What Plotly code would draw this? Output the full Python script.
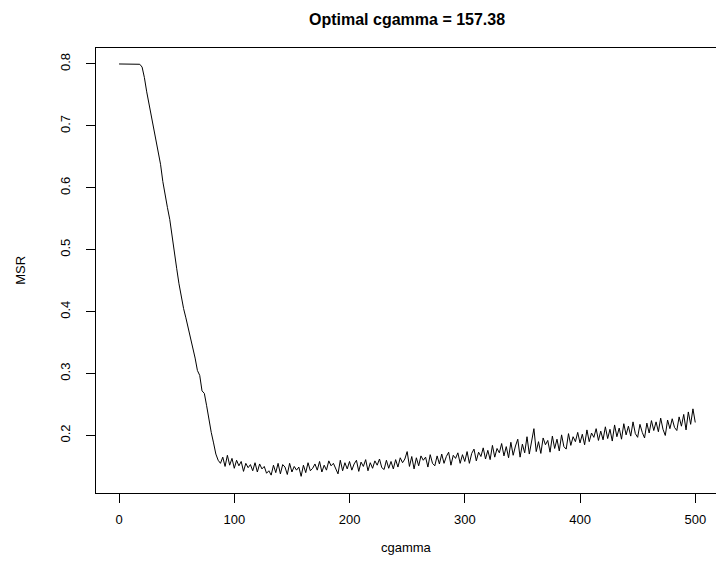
import plotly.graph_objects as go

# ---- data ----
x_decline = [0, 2, 4, 6, 8, 10, 12, 14, 16, 18, 20, 22, 24, 26, 28, 30, 32, 34, 36, 38,
             40, 42, 44, 46, 48, 50, 52, 54, 56, 58, 60, 62, 64, 66, 68, 70, 72, 74, 76, 78,
             80, 82, 84, 86, 88]
msr_decline = [0.800, 0.800, 0.800, 0.800, 0.800, 0.800, 0.800, 0.800, 0.800, 0.7995,
               0.795, 0.778, 0.755, 0.735, 0.716, 0.700, 0.677, 0.660, 0.638, 0.610,
               0.587, 0.568, 0.549, 0.525, 0.497, 0.470, 0.445, 0.424, 0.405, 0.390,
               0.374, 0.360, 0.343, 0.325, 0.305, 0.297, 0.272, 0.268, 0.248, 0.225,
               0.205, 0.188, 0.170, 0.160, 0.155]

x_noise = list(range(90, 501, 2))
msr_noise = [
    0.165, 0.150, 0.168, 0.152, 0.163,
    0.147, 0.160, 0.151, 0.158, 0.142, 0.155, 0.148, 0.153, 0.143, 0.156,
    0.141, 0.154, 0.146, 0.150, 0.139, 0.143, 0.136, 0.152, 0.140, 0.155,
    0.138, 0.153, 0.149, 0.137, 0.155, 0.141, 0.150, 0.144, 0.149, 0.134,
    0.152, 0.140, 0.156, 0.143, 0.147, 0.154, 0.144, 0.158, 0.141, 0.152,
    0.144, 0.159, 0.151, 0.155, 0.146, 0.138, 0.160, 0.143, 0.156, 0.146,
    0.158, 0.144, 0.154, 0.160, 0.142, 0.157, 0.150, 0.161, 0.143, 0.156,
    0.147, 0.159, 0.152, 0.162, 0.148, 0.145, 0.160, 0.147, 0.158, 0.146,
    0.161, 0.149, 0.164, 0.156, 0.162, 0.174, 0.150, 0.166, 0.146, 0.164,
    0.151, 0.167, 0.160, 0.165, 0.149, 0.169, 0.155, 0.151, 0.167, 0.154,
    0.170, 0.155, 0.166, 0.173, 0.152, 0.168, 0.163, 0.172, 0.155, 0.169,
    0.158, 0.174, 0.155, 0.171, 0.178, 0.159, 0.173, 0.166, 0.180, 0.162,
    0.176, 0.161, 0.184, 0.165, 0.179, 0.172, 0.187, 0.167, 0.182, 0.164,
    0.189, 0.168, 0.183, 0.194, 0.165, 0.186, 0.172, 0.198, 0.170, 0.188,
    0.211, 0.174, 0.190, 0.171, 0.196, 0.185, 0.192, 0.173, 0.199, 0.179,
    0.194, 0.175, 0.201, 0.182, 0.178, 0.203, 0.184, 0.198, 0.190, 0.205,
    0.188, 0.202, 0.185, 0.209, 0.190, 0.204, 0.197, 0.211, 0.192, 0.207,
    0.193, 0.214, 0.195, 0.210, 0.191, 0.217, 0.198, 0.212, 0.194, 0.219,
    0.201, 0.215, 0.199, 0.222, 0.203, 0.197, 0.218, 0.205, 0.196, 0.220,
    0.204, 0.224, 0.208, 0.222, 0.206, 0.228, 0.210, 0.200, 0.225, 0.211,
    0.227, 0.213, 0.208, 0.230, 0.215, 0.234, 0.209, 0.238, 0.218, 0.243,
    0.221,
]

x_ticks = [0, 100, 200, 300, 400, 500]
y_ticks = [0.2, 0.3, 0.4, 0.5, 0.6, 0.7, 0.8]
y_tick_text = ["0.2", "0.3", "0.4", "0.5", "0.6", "0.7", "0.8"]

title_text = "Optimal cgamma = 157.38"
x_label = "cgamma"
y_label = "MSR"

cgamma = x_decline + x_noise
msr = msr_decline + msr_noise

FONT = "Liberation Sans, Arial, Helvetica, sans-serif"

fig = go.Figure()
fig.add_trace(go.Scatter(x=cgamma, y=msr, mode="lines",
                         line=dict(color="black", width=1),
                         hoverinfo="skip", showlegend=False))

fig.update_layout(
    width=716, height=569,
    margin=dict(l=96, r=0, t=48, b=76),
    paper_bgcolor="white", plot_bgcolor="white",
    font=dict(family=FONT, size=13, color="black"),
    xaxis=dict(range=[-20, 518], tickvals=x_ticks, ticks="outside", ticklen=9,
               tickwidth=1, tickcolor="black", showline=True, linecolor="black",
               linewidth=1, mirror=True, showgrid=False, zeroline=False,
               ticklabelstandoff=5),
    yaxis=dict(range=[0.1071, 0.8258], tickvals=y_ticks, ticktext=y_tick_text,
               ticks="outside", ticklen=9, tickwidth=1, tickcolor="black",
               showline=True, linecolor="black", linewidth=1, mirror=True,
               showgrid=False, zeroline=False, tickangle=-90,
               ticklabelstandoff=11),
    annotations=[
        dict(text="<b>" + title_text + "</b>", xref="paper", yref="paper",
             x=0.5016, y=1.063, showarrow=False, font=dict(size=16),
             xanchor="center", yanchor="middle"),
        dict(text=x_label, xref="paper", yref="paper", x=0.5016, y=-0.122,
             showarrow=False, xanchor="center", yanchor="middle"),
        dict(text=y_label, xref="paper", yref="paper", x=-0.122, y=0.5,
             showarrow=False, textangle=-90, xanchor="center", yanchor="middle"),
    ],
)

fig.write_html("out.html")
